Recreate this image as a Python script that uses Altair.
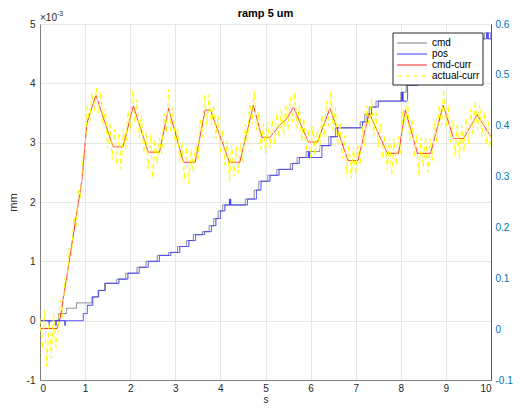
import altair as alt
import pandas as pd

FONT = "Liberation Sans"
NAMES = ["cmd", "pos", "cmd-curr", "actual-curr"]
COLORS = ["#808080", "#3a3aff", "#ff2020", "#ffff00"]
DASHES = [[1, 0], [1, 0], [1, 0], [5, 3]]

# commanded position (held between samples), left axis units (x1e-3 mm)
cmd_t = [0, 0.41, 0.59, 0.81, 1.15, 1.29, 1.43, 1.70, 1.90, 2.15, 2.35, 2.60, 2.85,
         3.05, 3.25, 3.40, 3.60, 3.75, 3.85, 3.95, 4.05, 4.55, 4.75, 4.85, 5.05, 5.25,
         5.55, 5.70, 5.90, 6.20, 6.40, 6.55, 7.10, 7.20, 7.30, 7.45, 8.00, 8.12, 8.35,
         8.55, 8.75, 8.95, 9.20, 9.45, 9.65, 9.85, 10.0]
cmd_v = [0, 0.12, 0.21, 0.30, 0.40, 0.51, 0.63, 0.70, 0.80, 0.90, 1.00, 1.10, 1.15,
         1.25, 1.35, 1.45, 1.50, 1.60, 1.72, 1.85, 1.95, 2.05, 2.20, 2.35, 2.45, 2.55,
         2.65, 2.75, 2.85, 2.95, 3.10, 3.25, 3.35, 3.48, 3.60, 3.70, 3.85, 3.97, 4.05,
         4.20, 4.35, 4.45, 4.55, 4.65, 4.75, 4.85, 4.85]

# measured position (held between samples)
pos_t = [0, 0.20, 0.21, 0.35, 0.36, 0.55, 0.56, 0.96, 1.05, 1.17, 1.30, 1.45, 1.75,
         1.95, 2.20, 2.40, 2.65, 2.90, 3.10, 3.30, 3.45, 3.65, 3.80, 3.90, 4.00, 4.10,
         4.20, 4.21, 4.22, 4.23, 4.60, 4.80, 4.90, 5.10, 5.30, 5.60, 5.75, 5.95, 5.96,
         5.97, 5.98, 6.25, 6.45, 6.60, 7.15, 7.25, 7.35, 7.50, 8.02, 8.03, 8.04, 8.05,
         8.15, 8.40, 8.60, 8.80, 9.00, 9.25, 9.50, 9.70, 9.90, 9.92, 9.93, 9.94, 10.0]
pos_v = [0, -0.08, 0, -0.08, 0, -0.08, 0, 0.12, 0.26, 0.40, 0.51, 0.63, 0.70,
         0.80, 0.90, 1.00, 1.10, 1.15, 1.25, 1.35, 1.45, 1.50, 1.60, 1.72, 1.85, 1.95,
         2.05, 1.95, 2.05, 1.95, 2.05, 2.20, 2.35, 2.45, 2.55, 2.65, 2.75, 2.85, 2.75,
         2.85, 2.75, 2.95, 3.10, 3.25, 3.35, 3.48, 3.60, 3.70, 3.85, 3.70, 3.85, 3.70,
         3.97, 4.05, 4.20, 4.35, 4.45, 4.55, 4.65, 4.75, 4.85, 4.75, 4.85, 4.75, 4.85]

# commanded current (vertices)
cc_t = [0, 0.38, 0.45, 0.93, 1.04, 1.24, 1.62, 1.84, 2.07, 2.40, 2.65, 2.85, 3.18, 3.44,
        3.66, 3.78, 4.20, 4.43, 4.73, 4.92, 5.10, 5.32, 5.47, 5.62, 5.95, 6.15, 6.43,
        6.83, 7.05, 7.30, 7.70, 7.95, 8.10, 8.37, 8.66, 8.94, 9.17, 9.39, 9.69, 10.0]
cc_v = [-0.13, -0.13, 0.05, 2.37, 3.33, 3.80, 2.93, 2.93, 3.62, 2.84, 2.84, 3.58, 2.67, 2.67,
        3.55, 3.55, 2.67, 2.67, 3.63, 3.09, 3.09, 3.30, 3.40, 3.60, 3.01, 3.01, 3.58,
        2.70, 2.70, 3.50, 2.82, 2.82, 3.55, 2.82, 2.82, 3.63, 3.07, 3.07, 3.47, 3.10]

# actual current, one sample every 0.05 s
ac_v = [0.03, -0.47, 0.17, -0.77, -0.03, -0.63, 0.13, -0.45, -0.16, 0.35,
        0.07, 0.71, 0.63, 1.22, 1.10, 1.74, 1.58, 2.22, 2.07, 2.78,
        2.82, 3.65, 3.29, 3.85, 3.53, 3.92, 3.50, 3.85, 3.27, 3.58,
        2.90, 3.35, 2.72, 3.23, 2.63, 3.17, 2.55, 3.24, 2.89, 3.54,
        3.19, 3.88, 3.35, 3.73, 3.09, 3.47, 2.82, 3.20, 2.56, 3.12,
        2.40, 3.06, 2.64, 3.08, 2.81, 3.49, 3.16, 3.90, 3.20, 3.60,
        2.93, 3.27, 2.67, 3.01, 2.37, 2.93, 2.30, 2.89, 2.49, 2.99,
        2.69, 3.39, 3.09, 3.81, 3.29, 3.81, 3.29, 3.64, 3.06, 3.45,
        2.81, 3.22, 2.62, 3.03, 2.33, 2.97, 2.43, 2.93, 2.49, 2.99,
        2.67, 3.31, 2.99, 3.67, 3.31, 3.87, 3.21, 3.51, 2.89, 3.31,
        2.81, 3.35, 2.91, 3.38, 2.97, 3.49, 3.08, 3.58, 3.13, 3.65,
        3.22, 3.77, 3.35, 3.85, 3.24, 3.63, 3.02, 3.41, 2.86, 3.23,
        2.75, 3.27, 2.79, 3.23, 2.89, 3.47, 3.09, 3.70, 3.28, 3.86,
        3.21, 3.58, 2.95, 3.34, 2.73, 3.12, 2.47, 2.98, 2.40, 2.94,
        2.46, 2.94, 2.62, 3.28, 2.94, 3.62, 3.26, 3.74, 3.11, 3.51,
        2.92, 3.32, 2.73, 3.13, 2.54, 3.08, 2.45, 3.06, 2.62, 3.10,
        2.82, 3.57, 3.29, 3.71, 3.04, 3.40, 2.75, 3.13, 2.45, 3.08,
        2.58, 3.10, 2.50, 3.06, 2.70, 3.36, 2.98, 3.63, 3.29, 3.90,
        3.24, 3.64, 3.00, 3.36, 2.77, 3.33, 2.73, 3.29, 2.84, 3.41,
        2.98, 3.56, 3.13, 3.70, 3.22, 3.64, 3.10, 3.52, 2.98, 3.36,
        2.90]
ac_t = [round(i * 0.05, 2) for i in range(len(ac_v))]


def held(ts, vs):
    """corner points of a sample-and-hold trace"""
    pts = [(ts[0], vs[0])]
    for k in range(1, len(ts)):
        pts.append((ts[k], vs[k - 1]))
        pts.append((ts[k], vs[k]))
    return pts


rows = []
traces = [("cmd", held(cmd_t, cmd_v)), ("pos", held(pos_t, pos_v)),
          ("cmd-curr", list(zip(cc_t, cc_v))), ("actual-curr", list(zip(ac_t, ac_v)))]
for s, pts in traces:
    for i, (a, b) in enumerate(pts):
        rows.append({"series": s, "i": i, "t": a, "v": b})
df = pd.DataFrame(rows)

xenc = alt.X("t:Q", scale=alt.Scale(domain=[0, 10], nice=False),
             axis=alt.Axis(values=list(range(11)), title="s", grid=True, gridColor="#e6e6e6",
                           domainColor="#808080", ticks=False, labelPadding=3,
                           labelColor="#262626", labelFontSize=10, titleFontSize=10,
                           titleColor="#262626", titleBaseline="bottom", titleY=24,
                           titleFontWeight="normal"))
yenc = alt.Y("v:Q", scale=alt.Scale(domain=[-1, 5], nice=False),
             axis=alt.Axis(values=[-1, 0, 1, 2, 3, 4, 5], title="mm", grid=True,
                           gridColor="#e6e6e6", domainColor="#808080", ticks=False,
                           labelExpr="'' + datum.value", labelPadding=5,
                           labelColor="#262626", labelFontSize=10, titleFontSize=11,
                           titleColor="#262626", titlePadding=8, titleFontWeight="normal"))

lines = alt.Chart(df).mark_line(strokeWidth=1, clip=True).encode(
    x=xenc, y=yenc,
    color=alt.Color("series:N", scale=alt.Scale(domain=NAMES, range=COLORS), legend=None),
    strokeDash=alt.StrokeDash("series:N", scale=alt.Scale(domain=NAMES, range=DASHES), legend=None),
    order=alt.Order("i:Q"),
)

one = alt.Chart(pd.DataFrame({"a": [0]}))
exp1 = one.mark_text(text="\u00d710", align="left", baseline="alphabetic", fontSize=10,
                     font=FONT, color="#262626", dy=-3).encode(x=alt.datum(0), y=alt.datum(5))
exp2 = one.mark_text(text="-3", align="left", baseline="alphabetic", fontSize=7,
                     font=FONT, color="#262626", dx=17, dy=-8).encode(x=alt.datum(0), y=alt.datum(5))
ttl = one.mark_text(text="ramp 5 um", align="center", baseline="top", fontSize=11,
                    fontWeight="bold", font=FONT, color="#000000", dy=-16).encode(
    x=alt.datum(5), y=alt.datum(5))

# legend box (pixel layout inside the plot area)
LX, LY, LW, LH, ROW = 353, 9, 90, 52, 11
legend_layers = [one.mark_rect(fill="white", stroke="#262626", strokeWidth=1).encode(
    x=alt.value(LX), x2=alt.value(LX + LW), y=alt.value(LY), y2=alt.value(LY + LH))]
for k, (nm, col, dsh) in enumerate(zip(NAMES, COLORS, DASHES)):
    yy = LY + 10 + ROW * k
    legend_layers.append(one.mark_rule(color=col, strokeWidth=1, strokeDash=dsh).encode(
        x=alt.value(LX + 4), x2=alt.value(LX + 34), y=alt.value(yy)))
    legend_layers.append(one.mark_text(text=nm, align="left", baseline="middle", fontSize=10,
                                       font=FONT, color="#000000").encode(
        x=alt.value(LX + 39), y=alt.value(yy)))

main = alt.layer(lines, exp1, exp2, ttl, *legend_layers)

right_df = pd.DataFrame({"r": [-0.1, 0.6]})
right = alt.Chart(right_df).mark_point(opacity=0).encode(
    y=alt.Y("r:Q", scale=alt.Scale(domain=[-0.1, 0.6], nice=False),
            axis=alt.Axis(orient="right", values=[-0.1, 0, 0.1, 0.2, 0.3, 0.4, 0.5, 0.6],
                          title=None, grid=False, ticks=False, domainColor="#0072bd",
                          labelColor="#0072bd", labelFontSize=10, labelPadding=4,
                          labelExpr="'' + datum.value"))
)

chart = alt.layer(main, right).resolve_scale(y="independent").properties(
    width=451, height=356,
    autosize=alt.AutoSizeParams(type="none"),
    padding={"left": 32, "top": 16, "right": 24, "bottom": 24},
).configure_view(stroke="#808080").configure(font=FONT).configure_axis(
    labelFont=FONT, titleFont=FONT)

chart.save("out.html", embed_options={"renderer": "svg", "actions": False})
